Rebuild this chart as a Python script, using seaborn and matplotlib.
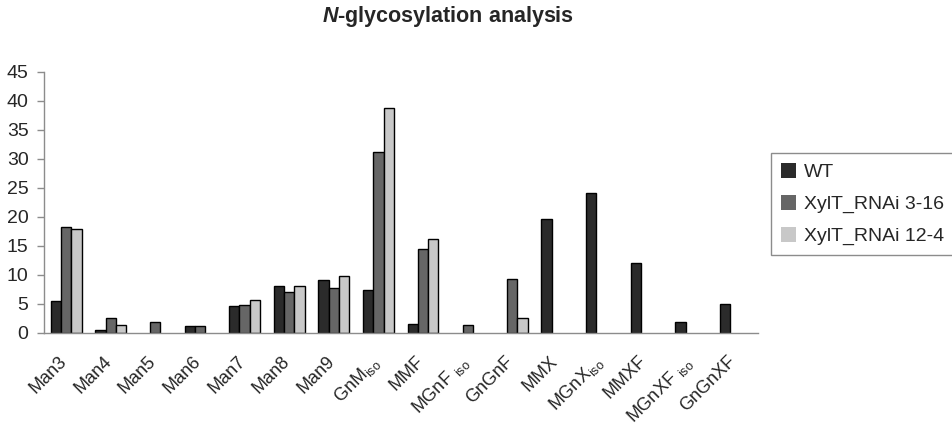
import numpy as np
import pandas as pd
import seaborn as sns
from matplotlib import pyplot as plt
from matplotlib import transforms

# glycan structures
glycans = ["Man3", "Man4", "Man5", "Man6", "Man7", "Man8", "Man9",
           "GnM$_{\\mathrm{iso}}$", "MMF", "MGnF $_{\\mathrm{iso}}$", "GnGnF",
           "MMX", "MGnX$_{\\mathrm{iso}}$", "MMXF", "MGnXF $_{\\mathrm{iso}}$", "GnGnXF"]

wt = [5.4, 0.5, 0.0, 1.2, 4.6, 8.0, 9.0, 7.3, 1.5, 0.0, 0.0, 19.6, 24.1, 12.0, 1.9, 5.0]
xylt_3_16 = [18.3, 2.5, 1.9, 1.2, 4.7, 7.1, 7.7, 31.2, 14.4, 1.3, 9.3, 0.0, 0.0, 0.0, 0.0, 0.0]
xylt_12_4 = [17.8, 1.3, 0.0, 0.0, 5.6, 8.1, 9.8, 38.7, 16.2, 0.0, 2.6, 0.0, 0.0, 0.0, 0.0, 0.0]

lines = ["WT", "XylT_RNAi 3-16", "XylT_RNAi 12-4"]
colors = ["#2b2b2b", "#666666", "#c8c8c8"]

df = pd.DataFrame({
    "glycan": glycans * 3,
    "line": [lines[0]] * 16 + [lines[1]] * 16 + [lines[2]] * 16,
    "value": wt + xylt_3_16 + xylt_12_4,
})

sns.set_style("white")
plt.rcParams["font.family"] = ["Liberation Sans", "DejaVu Sans"]
plt.rcParams["mathtext.fontset"] = "custom"
plt.rcParams["mathtext.rm"] = "Liberation Sans"
plt.rcParams["mathtext.it"] = "Liberation Sans:italic"
plt.rcParams["mathtext.bf"] = "Liberation Sans:bold"
plt.rcParams["mathtext.bfit"] = "Liberation Sans:italic:bold"

fig = plt.figure(figsize=(9.53, 4.26), dpi=100)
ax = fig.add_axes([0.046, 0.219, 0.749, 0.613])

sns.barplot(ax=ax, data=df, x="glycan", y="value", hue="line", order=glycans,
            hue_order=lines, palette=colors, width=0.69, edgecolor="black",
            linewidth=1.0, errorbar=None, saturation=1)

# hide outlines of empty bars
for p in ax.patches:
    if p.get_height() == 0:
        p.set_linewidth(0)

ax.set_xlim(-0.5, 15.5)
ax.set_ylim(0, 45)
ax.set_yticks(range(0, 50, 5))
ax.set_xlabel("")
ax.set_ylabel("")

for s in ["top", "right"]:
    ax.spines[s].set_visible(False)
for s in ["left", "bottom"]:
    ax.spines[s].set_color("#8c8c8c")
    ax.spines[s].set_linewidth(1.0)

ax.set_xticks(np.arange(16))
ax.set_xticks(np.arange(-0.5, 16, 1), minor=True)
ax.tick_params(axis="x", which="major", length=0, pad=0)
ax.tick_params(axis="x", which="minor", length=5, width=1, color="#8c8c8c", direction="out")
ax.tick_params(axis="y", length=5, width=1, color="#8c8c8c", direction="out", left=True,
               labelsize=14, pad=6)
ax.set_xticklabels(glycans, rotation=45, ha="right", va="top", rotation_mode="anchor",
                   fontsize=13)
shift = transforms.ScaledTranslation(-0.08, -0.2, fig.dpi_scale_trans)
for lab in ax.get_xticklabels():
    lab.set_transform(lab.get_transform() + shift)

handles, labels = ax.get_legend_handles_labels()
if ax.get_legend() is not None:
    ax.get_legend().remove()
leg = fig.legend(handles, labels, loc="upper left", bbox_to_anchor=(0.809, 0.64),
                 frameon=True, fancybox=False, edgecolor="#707070", fontsize=14,
                 handlelength=0.8, handleheight=0.8, handletextpad=0.4,
                 labelspacing=0.7, borderpad=0.5, borderaxespad=0)
leg.get_frame().set_linewidth(1.0)

fig.text(0.47, 0.962, "$\\mathbfit{N}$-glycosylation analysis", ha="center", va="center",
         fontsize=15.5, fontweight="bold")

fig.savefig("out.png", dpi=100)
